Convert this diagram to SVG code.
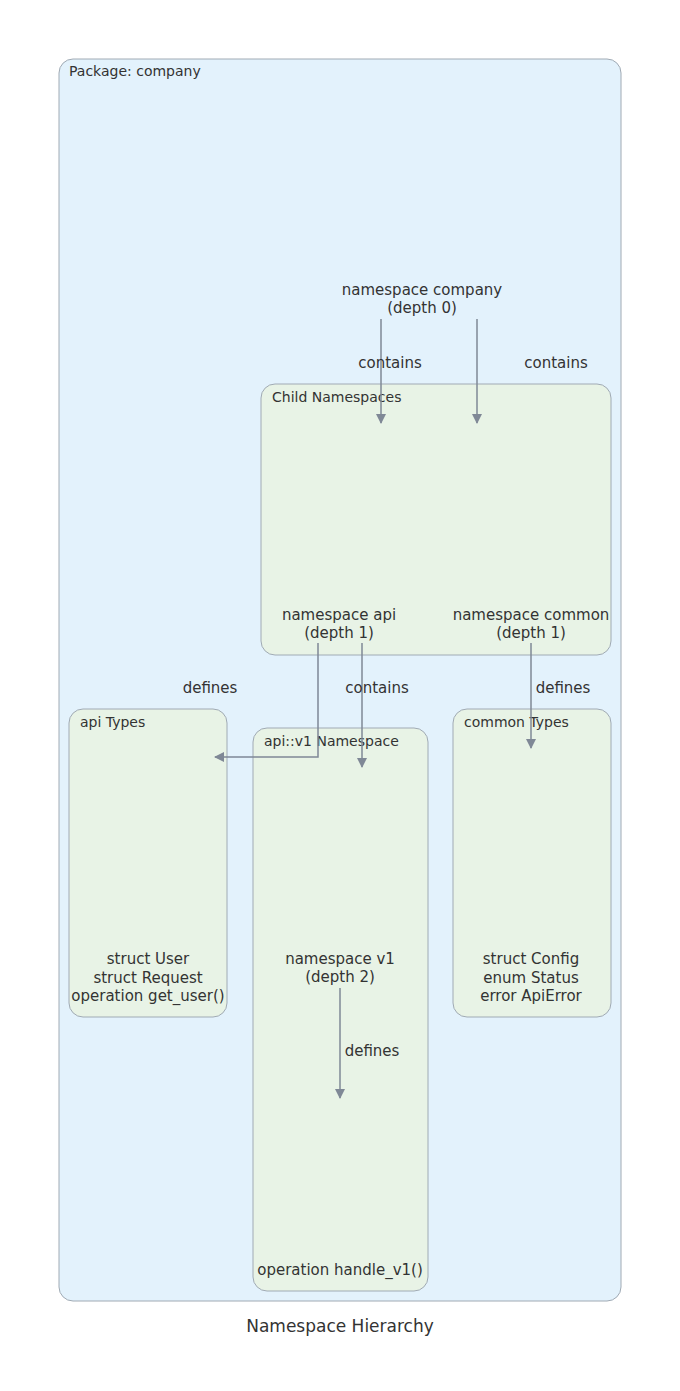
<svg xmlns="http://www.w3.org/2000/svg" width="680" height="1391" viewBox="0 0 680 1391">
<style>
text{font-family:"DejaVu Sans",sans-serif;fill:#333;}
.t{font-size:15px;text-anchor:middle;}
.l{font-size:14px;}
.c{fill:#e8f3e6;stroke:#a0aab4;stroke-width:1;}
.e{stroke:#7f8896;stroke-width:1.5;fill:none;marker-end:url(#a);}
</style>
<defs><marker id="a" markerWidth="10" markerHeight="10" refX="9" refY="5" orient="auto" markerUnits="userSpaceOnUse"><path d="M0,0 L10,5 L0,10 z" fill="#7f8896"/></marker></defs>
<rect width="680" height="1391" fill="#fff"/>
<g id="pkg"><rect x="59" y="59" width="562" height="1242" rx="14" fill="#e3f2fc" stroke="#a0aab4"/><text class="l" x="69" y="76">Package: company</text></g>
<g id="company"><text class="t" x="422" y="295">namespace company</text><text class="t" x="422" y="313">(depth 0)</text></g>
<g id="child"><rect class="c" x="261" y="384" width="350" height="271" rx="14"/><text class="l" x="272" y="402">Child Namespaces</text>
<text class="t" x="339" y="620">namespace api</text><text class="t" x="339" y="638">(depth 1)</text>
<text class="t" x="531" y="620">namespace common</text><text class="t" x="531" y="638">(depth 1)</text></g>
<g id="apitypes"><rect class="c" x="69" y="709" width="158" height="308" rx="14"/><text class="l" x="80" y="727">api Types</text>
<text class="t" x="148" y="964">struct User</text><text class="t" x="148" y="983">struct Request</text><text class="t" x="148" y="1001">operation get_user()</text></g>
<g id="v1"><rect class="c" x="253" y="728" width="175" height="563" rx="14"/><text class="l" x="264" y="746">api::v1 Namespace</text>
<text class="t" x="340" y="964">namespace v1</text><text class="t" x="340" y="982">(depth 2)</text>
<text class="t" x="340" y="1275">operation handle_v1()</text></g>
<g id="commontypes"><rect class="c" x="453" y="709" width="158" height="308" rx="14"/><text class="l" x="464" y="727">common Types</text>
<text class="t" x="531" y="964">struct Config</text><text class="t" x="531" y="983">enum Status</text><text class="t" x="531" y="1001">error ApiError</text></g>
<g id="edges">
<path class="e" d="M381,319 V423"/><text class="t" x="390" y="368">contains</text>
<path class="e" d="M477,319 V423"/><text class="t" x="556" y="368">contains</text>
<path class="e" d="M318,643 V757 H215"/><text class="t" x="210" y="693">defines</text>
<path class="e" d="M362,643 V767"/><text class="t" x="377" y="693">contains</text>
<path class="e" d="M531,643 V748"/><text class="t" x="563" y="693">defines</text>
<path class="e" d="M340,988 V1098"/><text class="t" x="372" y="1056">defines</text>
</g>
<text x="340" y="1332" style="font-size:17px;text-anchor:middle">Namespace Hierarchy</text>
</svg>
